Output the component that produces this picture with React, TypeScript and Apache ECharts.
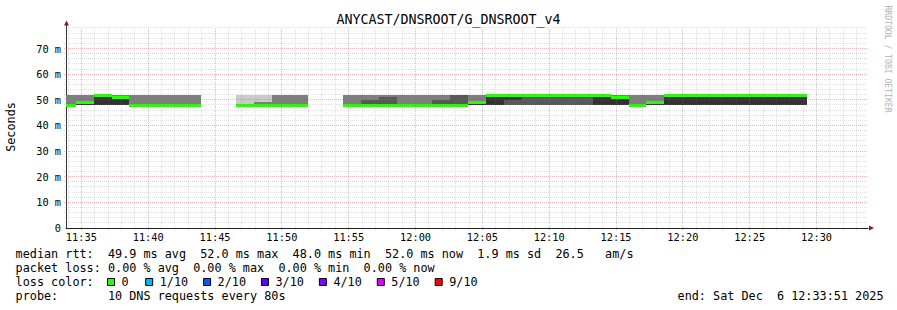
import React, { useEffect, useRef } from "react";
import * as echarts from "echarts";

// ---------- texts ----------
const chartTitle = "ANYCAST/DNSROOT/G_DNSROOT_v4";
const yAxisTitle = "Seconds";
const watermarkText = "RRDTOOL / TOBI OETIKER";

// ---------- time range (clock times, one hour window) ----------
const startTime = "11:33:51";
const endTime = "12:33:51";
const firstSampleEnd = "11:34:36";
const stepSeconds = 80;
const pingsPerRound = 10;
const xLabelTimes = ["11:35", "11:40", "11:45", "11:50", "11:55", "12:00", "12:05", "12:10", "12:15", "12:20", "12:25", "12:30"];

// ---------- value axis ----------
const yMax = 78;
const yMinorStep = 2;
const yMajorStep = 10;

// ---------- data: number of the 10 DNS replies per round at each RTT level ----------
const rttLevels = [48, 49, 50, 51, 52]; // ms
const pingCounts: (number[] | null)[] = [
  [7, 0, 0, 0, 3],
  [5, 2, 0, 0, 3],
  [5, 0, 0, 0, 5],
  [5, 0, 0, 2, 3],
  [7, 0, 0, 0, 3],
  [7, 0, 0, 0, 3],
  [7, 0, 0, 0, 3],
  [7, 0, 0, 0, 3],
  null,
  null,
  [9, 0, 0, 0, 1],
  [7, 2, 0, 0, 1],
  [7, 0, 0, 0, 3],
  [7, 0, 0, 0, 3],
  null,
  null,
  [7, 0, 0, 0, 3],
  [6, 0, 1, 0, 3],
  [6, 0, 0, 1, 3],
  [7, 0, 0, 0, 3],
  [7, 0, 0, 0, 3],
  [6, 0, 1, 0, 3],
  [6, 0, 0, 0, 4],
  [5, 2, 0, 0, 3],
  [5, 0, 0, 0, 5],
  [4, 0, 1, 0, 5],
  [4, 0, 0, 0, 6],
  [4, 0, 0, 0, 6],
  [4, 0, 0, 0, 6],
  [4, 0, 0, 1, 5],
  [5, 0, 0, 0, 5],
  [5, 0, 0, 2, 3],
  [7, 0, 0, 0, 3],
  [5, 2, 0, 0, 3],
  [5, 0, 0, 0, 5],
  [5, 0, 0, 0, 5],
  [5, 0, 0, 0, 5],
  [5, 0, 0, 0, 5],
  [5, 0, 0, 0, 5],
  [5, 0, 0, 0, 5],
  [5, 0, 0, 0, 5],
  [5, 0, 0, 0, 5],
];

// ---------- loss legend ----------
const lossLabels = ["0", "1/10", "2/10", "3/10", "4/10", "5/10", "9/10"];
const lossThresholds = [0, 1, 2, 3, 4, 5, 9];
const lossColors = ["#26ff00", "#00b8ff", "#0059ff", "#5e00ff", "#7e00ff", "#dd00ff", "#ff0000"];

// ---------- statistics text ----------
const medianRttStats = ["49.9 ms avg", "52.0 ms max", "48.0 ms min", "52.0 ms now", "1.9 ms sd", "26.5   am/s"];
const packetLossStats = ["0.00 % avg", "0.00 % max", "0.00 % min", "0.00 % now"];
const probeDescription = "10 DNS requests every 80s";
const endLabel = "end: Sat Dec  6 12:33:51 2025";

// ---------- helpers ----------
const toSec = (s: string) => {
  const p = s.split(":").map(Number);
  return p[0] * 3600 + p[1] * 60 + (p[2] || 0);
};
const fmtHM = (v: number) => {
  const h = Math.floor(v / 3600);
  const m = Math.floor((v % 3600) / 60);
  return String(h).padStart(2, "0") + ":" + String(m).padStart(2, "0");
};

const MONO = "DejaVu Sans Mono";
const GRID_LEFT = 66;
const GRID_RIGHT = 29;
const GRID_TOP = 28;
const GRID_BOTTOM = 82;
const W = 897;
const H = 310;

function buildOption() {
  const t0 = toSec(startTime);
  const t1 = toSec(endTime);
  const firstEnd = toSec(firstSampleEnd);

  const smokeData: number[][] = [];
  pingCounts.forEach((c, k) => {
    if (!c) return;
    const end = firstEnd + k * stepSeconds;
    smokeData.push([end - stepSeconds, end, ...c]);
  });

  // grid lines: [kind(0 vertical,1 horizontal), value, major]
  const gridData: number[][] = [];
  const firstMinute = Math.ceil(t0 / 60) * 60;
  for (let t = firstMinute; t < t1; t += 60) gridData.push([0, t, t % 300 === 0 ? 1 : 0]);
  for (let v = yMinorStep; v <= yMax; v += yMinorStep) gridData.push([1, v, v % yMajorStep === 0 ? 1 : 0]);
  gridData.sort((a, b) => a[2] - b[2]);

  const half = Math.floor(pingsPerRound / 2);

  const lossColorFor = (loss: number) => {
    let idx = 0;
    lossThresholds.forEach((th, i) => {
      if (loss >= th) idx = i;
    });
    return lossColors[idx];
  };

  const smokeRender = (params: any, api: any) => {
    const a = api.value(0) as number;
    const b = api.value(1) as number;
    const pings: number[] = [];
    rttLevels.forEach((lvl, i) => {
      const c = api.value(2 + i) as number;
      for (let j = 0; j < c; j++) pings.push(lvl);
    });
    const children: any[] = [];
    for (let ibot = 1; ibot <= half; ibot++) {
      const itop = pingsPerRound + 1 - ibot;
      const lo = pings[ibot - 1];
      const hi = pings[itop - 1];
      if (hi > lo) {
        const p0 = api.coord([a, hi]);
        const p1 = api.coord([b, lo]);
        const g = Math.round((190 / half) * (half - ibot)) + 50;
        const x0 = Math.round(p0[0]);
        const x1 = Math.round(p1[0]);
        children.push({
          type: "rect",
          shape: { x: x0, y: Math.round(p0[1]), width: x1 - x0, height: Math.round(p1[1]) - Math.round(p0[1]) },
          style: { fill: `rgb(${g},${g},${g})` },
        });
      }
    }
    const median = pings[Math.floor(pingsPerRound / 2)];
    const m0 = api.coord([a, median]);
    const m1 = api.coord([b, median]);
    const x0 = Math.round(m0[0]);
    const x1 = Math.round(m1[0]);
    children.push({
      type: "rect",
      shape: { x: x0, y: Math.round(m0[1]) - 1, width: x1 - x0, height: 3 },
      style: { fill: lossColorFor(pingsPerRound - pings.length) },
    });
    return { type: "group", children };
  };

  const gridRender = (params: any, api: any) => {
    const kind = api.value(0) as number;
    const v = api.value(1) as number;
    const major = api.value(2) as number;
    const stroke = major ? "rgba(235,70,70,0.42)" : "rgba(120,120,120,0.24)";
    if (kind === 0) {
      const p0 = api.coord([v, 0]);
      const p1 = api.coord([v, yMax]);
      const x = Math.floor(p0[0]) + 0.5;
      return {
        type: "line",
        shape: { x1: x, y1: p0[1] + 2, x2: x, y2: p1[1] },
        style: { stroke, lineWidth: 1, lineDash: [1, 1] },
      };
    }
    const p0 = api.coord([t0, v]);
    const p1 = api.coord([t1, v]);
    const y = Math.floor(p0[1]) + 0.5;
    return {
      type: "line",
      shape: { x1: p0[0] - 2, y1: y, x2: p1[0], y2: y },
      style: { stroke, lineWidth: 1, lineDash: [1, 1] },
    };
  };

  const axisBottomY = H - GRID_BOTTOM;
  const axisRightX = W - GRID_RIGHT;
  const arrowColor = "#8b1c1c";

  const legendFont = 11.8;
  const textX = 15.6;
  const rows = [258, 272, 286, 300].map((b) => b - 0.346 * legendFont);

  const graphics: any[] = [
    {
      type: "text",
      x: W / 2,
      y: 19.5,
      style: { text: chartTitle, fontFamily: MONO, fontSize: 13.3, fill: "#000", align: "center", verticalAlign: "middle" },
    },
    {
      type: "text",
      x: 11,
      y: (GRID_TOP + axisBottomY) / 2 - 1,
      rotation: Math.PI / 2,
      style: { text: yAxisTitle, fontFamily: MONO, fontSize: legendFont, fill: "#000", align: "center", verticalAlign: "middle" },
    },
    {
      type: "text",
      x: 888,
      y: 59,
      rotation: -Math.PI / 2,
      style: { text: watermarkText, fontFamily: MONO, fontSize: 8.1, fill: "#b4b4b4", align: "center", verticalAlign: "middle" },
    },
    {
      type: "line",
      shape: { x1: GRID_LEFT + 0.5, y1: GRID_TOP, x2: GRID_LEFT + 0.5, y2: 24 },
      style: { stroke: "#333", lineWidth: 1 },
    },
    {
      type: "polygon",
      shape: { points: [[GRID_LEFT - 2, 25.5], [GRID_LEFT + 3, 25.5], [GRID_LEFT + 0.5, 20.5]] },
      style: { fill: arrowColor },
    },
    {
      type: "polygon",
      shape: { points: [[axisRightX + 1, axisBottomY - 2.5], [axisRightX + 1, axisBottomY + 2.5], [axisRightX + 6, axisBottomY]] },
      style: { fill: arrowColor },
    },
    {
      type: "text",
      x: textX,
      y: rows[0],
      style: { text: "median rtt:  " + medianRttStats.join("  "), fontFamily: MONO, fontSize: legendFont, fill: "#000", verticalAlign: "middle" },
    },
    {
      type: "text",
      x: textX,
      y: rows[1],
      style: { text: "packet loss: " + packetLossStats.join("  "), fontFamily: MONO, fontSize: legendFont, fill: "#000", verticalAlign: "middle" },
    },
    {
      type: "text",
      x: textX,
      y: rows[2],
      style: { text: "loss color:", fontFamily: MONO, fontSize: legendFont, fill: "#000", verticalAlign: "middle" },
    },
    {
      type: "text",
      x: textX,
      y: rows[3],
      style: { text: "probe:       " + probeDescription, fontFamily: MONO, fontSize: legendFont, fill: "#000", verticalAlign: "middle" },
    },
    {
      type: "text",
      x: 883.5,
      y: rows[3],
      style: { text: endLabel, fontFamily: MONO, fontSize: legendFont, fill: "#000", align: "right", verticalAlign: "middle" },
    },
  ];

  lossLabels.forEach((lab, i) => {
    const bx = i === 0 ? 107.5 : 145.7 + (i - 1) * 57.9;
    graphics.push({
      type: "rect",
      shape: { x: bx, y: 278.5, width: 7, height: 7 },
      style: { fill: lossColors[i], stroke: "#000", lineWidth: 1 },
    });
    graphics.push({
      type: "text",
      x: bx + 14,
      y: rows[2],
      style: { text: lab, fontFamily: MONO, fontSize: legendFont, fill: "#000", verticalAlign: "middle" },
    });
  });

  return {
    animation: false,
    backgroundColor: "#fff",
    grid: { left: GRID_LEFT, right: GRID_RIGHT, top: GRID_TOP, bottom: GRID_BOTTOM, containLabel: false },
    xAxis: {
      type: "value",
      min: t0,
      max: t1,
      axisLine: { show: true, lineStyle: { color: "#222", width: 1 } },
      axisTick: { show: false },
      splitLine: { show: false },
      axisLabel: {
        customValues: xLabelTimes.map(toSec),
        formatter: (v: number) => fmtHM(v),
        fontFamily: MONO,
        fontSize: 10.3,
        color: "#000",
        margin: 4,
      },
    },
    yAxis: {
      type: "value",
      min: 0,
      max: yMax,
      interval: yMinorStep,
      axisLine: { show: true, lineStyle: { color: "#333", width: 1 } },
      axisTick: { show: false },
      splitLine: { show: false },
      axisLabel: {
        formatter: (v: number) => (v % yMajorStep === 0 ? (v === 0 ? "0" : `${v} m`) : ""),
        fontFamily: MONO,
        fontSize: 10.3,
        color: "#000",
        margin: 5,
      },
    },
    graphic: graphics,
    series: [
      {
        type: "custom",
        name: "smoke",
        renderItem: smokeRender,
        data: smokeData,
        encode: { x: [0, 1], y: 2 },
        clip: true,
        silent: true,
        z: 2,
      },
      {
        type: "custom",
        name: "grid",
        renderItem: gridRender,
        data: gridData,
        encode: { x: 1, y: 1 },
        clip: false,
        silent: true,
        z: 3,
      },
    ],
  };
}

export default function App() {
  const ref = useRef<HTMLDivElement>(null);
  useEffect(() => {
    if (!ref.current) return;
    const chart = echarts.init(ref.current, null, { renderer: "svg" });
    chart.setOption(buildOption() as any);
    return () => chart.dispose();
  }, []);
  return (
    <div
      ref={ref}
      style={{ position: "fixed", left: 0, top: 0, width: W, height: H, background: "#fff" }}
    />
  );
}
